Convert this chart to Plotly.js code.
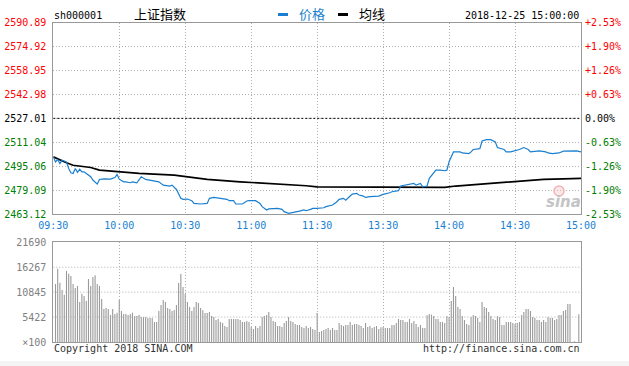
<!DOCTYPE html>
<html><head><meta charset="utf-8">
<script src="https://cdn.plot.ly/plotly-3.0.1.min.js"></script>
<style>html,body{margin:0;padding:0;background:#f4f4f4;}#chart{width:629px;height:361px;background:#fff;}</style>
</head><body><div id="chart"></div>
<script>
// ---- data (minute index from 09:30, 0..240) ----
const timeLabels = ["09:30","10:00","10:30","11:00","11:30","13:30","14:00","14:30","15:00"];
const timeTicks = [0,30,60,90,120,150,180,210,240];
const priceTicks = [2463.12,2479.09,2495.06,2511.04,2527.01,2542.98,2558.95,2574.92,2590.89];
const priceLabels = ["2463.12","2479.09","2495.06","2511.04","2527.01","2542.98","2558.95","2574.92","2590.89"];
const pctLabels = ["-2.53%","-1.90%","-1.26%","-0.63%","0.00%","+0.63%","+1.26%","+1.90%","+2.53%"];
const prevClose = 2527.01;
const volTicks = [0,5422.5,10845,16267.5,21690];
const volLabels = ["×100","5422","10845","16267","21690"];

const priceMin = [0,1,2,3,4,6,7,8,9,10,11,12,13,14,15,17,18,20,21,23,26,28,29,30,32,33,35,36,38,39,40,42,45,48,50,53,54,56,58,59,61,63,64,67,70,71,73,76,79,80,82,83,86,88,89,92,94,95,97,98,102,104,105,107,109,111,112,114,115,117,118,120,121,123,124,126,127,129,130,132,133,135,136,138,139,141,142,144,146,148,150,151,153,154,157,158,161,162,164,165,167,168,170,171,173,174,176,178,179,180,182,185,186,189,190,191,194,195,197,199,201,202,205,206,208,210,212,214,216,217,220,221,224,225,227,230,232,235,238,240];
const priceVal = [2501.3,2497.9,2499.5,2496.8,2499.1,2497.9,2493.5,2490.6,2490.2,2493.5,2490.9,2493.0,2491.3,2491.3,2490.2,2488.0,2485.8,2483.1,2486.2,2486.6,2486.4,2487.5,2489.5,2486.4,2484.6,2484.6,2484.0,2484.6,2484.0,2486.2,2488.0,2486.2,2485.3,2484.6,2482.4,2481.8,2482.4,2479.5,2473.6,2472.9,2473.1,2472.0,2470.2,2469.8,2470.2,2473.6,2474.2,2473.6,2472.9,2472.0,2472.0,2469.8,2469.8,2471.8,2472.0,2472.0,2470.2,2468.0,2465.8,2466.5,2466.9,2466.2,2464.7,2463.6,2464.0,2464.7,2465.1,2465.8,2465.3,2466.2,2466.9,2466.9,2466.9,2467.3,2468.0,2468.4,2469.1,2471.3,2472.9,2473.6,2472.4,2475.1,2476.4,2476.9,2475.8,2475.1,2474.2,2474.7,2475.1,2475.1,2476.2,2476.4,2477.3,2478.0,2478.7,2481.8,2482.4,2483.1,2483.5,2482.4,2483.5,2481.3,2481.8,2486.9,2490.2,2492.4,2492.4,2492.0,2492.4,2498.0,2504.6,2504.6,2503.9,2503.5,2504.6,2506.2,2506.8,2511.9,2512.8,2512.8,2511.3,2507.5,2506.2,2504.6,2504.6,2505.3,2506.2,2507.5,2506.2,2504.6,2505.1,2505.3,2504.6,2503.9,2503.5,2503.9,2505.1,2505.3,2505.3,2504.6];

const avgMin = [0,3,6,9,17,21,30,39,55,60,70,85,100,115,120,126,134,178,183,193,200,206,214,223,232,240];
const avgVal = [2501.3,2499.1,2497.3,2495.7,2494.2,2492.4,2491.3,2490.2,2489.1,2488.0,2486.2,2484.6,2483.5,2482.0,2481.3,2481.3,2480.9,2480.9,2481.8,2482.9,2484.0,2484.6,2485.3,2486.2,2486.6,2486.9];

// volume (x100 shares), minutes 1..240
const volVal = [
12615,15950,12905,11310,10295,15443,14863,14355,12615,11745,
12180,8700,10513,10005,8918,13703,12180,14138,14500,12615,
12180,9353,7178,7395,7178,5873,7178,6090,6380,9135,
6743,6090,6090,5873,6090,6380,5655,5655,5873,5438,
5438,5438,5220,5220,5220,4350,4350,6743,8048,9135,
8700,7395,7178,6743,6960,8048,12833,14790,11963,10440,
8700,7613,6743,7613,8700,8483,7395,6888,6308,6308,
6525,5655,5438,4785,5003,4350,4133,3480,3263,5003,
5003,5003,5003,5003,4785,4350,4350,4568,4350,3263,
2828,3480,3045,3480,5438,5655,5873,6525,5438,4568,
4350,3480,3480,3263,4133,4568,5438,4568,4350,3915,
3698,3698,3263,3045,3480,3045,3263,2828,2610,6308,
2175,2393,2610,2828,3045,2610,3045,2610,2610,4133,
3698,3480,3698,3698,4350,3698,3915,3915,3698,3480,
3045,4133,3263,3480,3045,3263,3480,2828,3190,3263,
3045,3045,3045,3698,3698,4133,5003,4785,4785,4350,
4350,5003,4133,4568,3915,3263,3698,3045,3045,5800,
6090,5945,5655,5003,5003,4350,4350,4133,5655,5438,
8918,11963,10005,7613,7178,5655,4785,3915,3698,5438,
5873,5655,5220,4350,8700,7613,7395,6525,5655,5003,
4785,5655,5438,3698,3698,4350,4350,4350,4133,3915,
4133,4350,5873,6525,7178,7178,6743,5438,5220,4785,
4785,4350,4785,4350,5438,5220,5220,4785,5003,5873,
5873,6743,6960,8265,8265,0,150,0,6017,0];
const volMin = volVal.map((v,i)=>i+1);

// ---- styling ----
const W=629,H=361;
const px=(x)=>x/W, py=(y)=>1-y/H;
const mono="DejaVu Sans Mono, monospace";
const cjk="Noto Sans CJK SC, sans-serif";
const BLUE="#1a7fd0", RED="#ff0000", GREEN="#008000", GRID="#b0b0b0", FRAME="#999999";

const yTickText = priceLabels.map((t,i)=>{
  const v=priceTicks[i]; const c = v>prevClose+0.001?RED:(v<prevClose-0.001?GREEN:"#000");
  return `<span style="color:${c}">${t}</span>`;});
const pTickText = pctLabels.map((t,i)=>{
  const v=priceTicks[i]; const c = v>prevClose+0.001?RED:(v<prevClose-0.001?GREEN:"#000");
  return `<span style="color:${c}">${t}</span>`;});

const xDom=[px(53.3),px(581)];
const traces=[
 {x:avgMin,y:avgVal,type:"scatter",mode:"lines",line:{color:"#000",width:1.7},xaxis:"x",yaxis:"y",hoverinfo:"skip"},
 {x:priceMin,y:priceVal,type:"scatter",mode:"lines",line:{color:BLUE,width:1.2},xaxis:"x",yaxis:"y",hoverinfo:"skip"},
 {x:priceMin,y:priceVal,type:"scatter",mode:"lines",line:{color:"rgba(0,0,0,0)",width:0},xaxis:"x",yaxis:"y3",hoverinfo:"skip"},
 {x:volMin,y:volVal,type:"bar",marker:{color:"#9a9a9a",line:{width:0}},width:0.5,xaxis:"x2",yaxis:"y2",hoverinfo:"skip"}
];
const gridCommon={showgrid:true,gridcolor:GRID,griddash:"1px,2px",gridwidth:1,zeroline:false,showline:true,mirror:true,linecolor:FRAME,linewidth:1,ticks:""};
const layout={
 width:W,height:H,margin:{l:0,r:0,t:0,b:0},paper_bgcolor:"#fff",plot_bgcolor:"#fff",showlegend:false,
 xaxis:Object.assign({},gridCommon,{domain:xDom,range:[0,240],anchor:"y",tickmode:"array",tickvals:timeTicks,ticktext:timeLabels,
   tickfont:{family:mono,size:10,color:BLUE},ticklabelstandoff:2}),
 yaxis:Object.assign({},gridCommon,{domain:[py(214),py(22.7)],range:[priceTicks[0],priceTicks[8]],anchor:"x",tickmode:"array",
   tickvals:priceTicks,ticktext:yTickText,tickfont:{family:mono,size:10},ticklabelstandoff:4}),
 yaxis3:{overlaying:"y",side:"right",anchor:"x",range:[priceTicks[0],priceTicks[8]],tickmode:"array",tickvals:priceTicks,ticktext:pTickText,
   tickfont:{family:mono,size:10},showgrid:false,zeroline:false,showline:false,ticks:"",ticklabelstandoff:3},
 xaxis2:Object.assign({},gridCommon,{domain:xDom,range:[0,240],anchor:"y2",tickmode:"array",tickvals:timeTicks,showticklabels:false}),
 yaxis2:Object.assign({},gridCommon,{domain:[py(342),py(242.3)],range:[0,21690],anchor:"x2",tickmode:"array",tickvals:volTicks,ticktext:volLabels,
   tickfont:{family:mono,size:10,color:"#808080"},ticklabelstandoff:4,showgrid:false}),
 shapes:[
  {type:"line",xref:"x",yref:"y",x0:0,x1:240,y0:prevClose,y1:prevClose,line:{color:"#000",width:1,dash:"2px,2px"}},
  ...volTicks.slice(1,4).map(v=>({type:"line",xref:"x2",yref:"y2",x0:0,x1:240,y0:v,y1:v,layer:"above",line:{color:GRID,width:1,dash:"1px,2px"}})),
  {type:"line",xref:"paper",yref:"paper",x0:px(278),x1:px(288),y0:py(14.5),y1:py(14.5),line:{color:BLUE,width:3}},
  {type:"line",xref:"paper",yref:"paper",x0:px(338),x1:px(348),y0:py(14.5),y1:py(14.5),line:{color:"#000",width:3}},
  {type:"circle",xref:"paper",yref:"paper",x0:px(554),x1:px(564),y0:py(196),y1:py(186),line:{color:"#f3b4b4",width:1.5},fillcolor:"rgba(243,180,180,0.3)"}
 ],
 annotations:[
  {text:"sh000001",xref:"paper",yref:"paper",x:px(52),y:py(15),xanchor:"left",yanchor:"middle",showarrow:false,font:{family:mono,size:10,color:"#000"}},
  {text:"上证指数",xref:"paper",yref:"paper",x:px(132),y:py(14),xanchor:"left",yanchor:"middle",showarrow:false,font:{family:cjk,size:13,color:"#000"}},
  {text:"价格",xref:"paper",yref:"paper",x:px(297),y:py(14),xanchor:"left",yanchor:"middle",showarrow:false,font:{family:cjk,size:13,color:BLUE}},
  {text:"均线",xref:"paper",yref:"paper",x:px(357),y:py(14),xanchor:"left",yanchor:"middle",showarrow:false,font:{family:cjk,size:13,color:"#000"}},
  {text:"2018-12-25 15:00:00",xref:"paper",yref:"paper",x:px(581),y:py(15),xanchor:"right",yanchor:"middle",showarrow:false,font:{family:mono,size:10,color:"#000"}},
  {text:"Copyright 2018 SINA.COM",xref:"paper",yref:"paper",x:px(52),y:py(348),xanchor:"left",yanchor:"middle",showarrow:false,font:{family:mono,size:10,color:"#333"}},
  {text:"http://finance.sina.com.cn",xref:"paper",yref:"paper",x:px(582),y:py(348),xanchor:"right",yanchor:"middle",showarrow:false,font:{family:mono,size:10,color:"#333"}},
  {text:"<b><i>sina</i></b>",xref:"paper",yref:"paper",x:px(563),y:py(202),xanchor:"center",yanchor:"middle",showarrow:false,font:{family:"DejaVu Sans, sans-serif",size:15,color:"#c4c4c4"}}
 ]
};
Plotly.newPlot("chart",traces,layout,{displayModeBar:false,staticPlot:true});
</script></body></html>
